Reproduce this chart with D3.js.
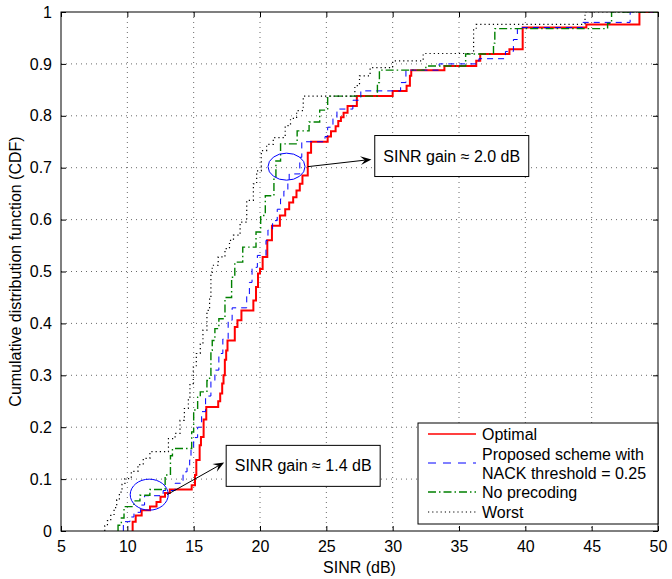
<!DOCTYPE html>
<html>
<head>
<meta charset="utf-8">
<script src="https://cdn.jsdelivr.net/npm/d3@7"></script>
<style>
  body { margin: 0; background: #fff; }
  svg text { font-family: "Liberation Sans", Arial, Helvetica, sans-serif; fill: #000; }
</style>
</head>
<body>
<script>
// step points [SINR (dB), CDF]
var optimal = [
  [10.40,0.018],[10.63,0.030],[11.08,0.040],[11.71,0.047],[12.2,0.056],[12.5,0.066],[12.84,0.073],
  [13.2,0.080],[14.85,0.088],[15.1,0.108],[15.2,0.137],[15.45,0.165],[15.55,0.181],[15.75,0.215],
  [15.95,0.239],[16.85,0.25],[17.0,0.265],[17.15,0.284],[17.25,0.30],[17.35,0.33],[17.45,0.348],
  [17.55,0.367],[18.1,0.393],[18.3,0.406],[18.6,0.425],[19.5,0.444],[19.7,0.47],[19.85,0.496],
  [20.0,0.505],[20.2,0.528],[20.55,0.56],[20.9,0.588],[21.5,0.608],[21.9,0.62],[22.2,0.633],
  [22.5,0.643],[22.75,0.656],[23.0,0.669],[23.2,0.685],[23.6,0.729],[23.85,0.75],[25.1,0.76],
  [25.35,0.77],[25.7,0.78],[25.9,0.79],[26.1,0.797],[26.3,0.806],[26.6,0.819],[27.3,0.838],
  [30.0,0.848],[31.05,0.858],[31.3,0.877],[31.4,0.888],[33.9,0.896],[36.3,0.906],[36.6,0.919],
  [38.8,0.928],[39.8,0.97],[44.6,0.976],[48.6,1.0]
];
var proposed = [
  [9.7,0.018],[10.2,0.027],[10.5,0.036],[11.0,0.05],[11.3,0.068],[12.7,0.078],[13.6,0.092],
  [14.2,0.114],[14.5,0.125],[14.7,0.137],[14.8,0.16],[15.0,0.18],[15.3,0.20],[15.6,0.23],
  [15.9,0.26],[16.3,0.29],[16.6,0.31],[16.9,0.342],[17.2,0.37],[17.6,0.406],[17.9,0.43],
  [19.0,0.454],[19.2,0.479],[19.4,0.508],[19.8,0.531],[20.45,0.56],[20.6,0.58],[20.95,0.598],
  [21.3,0.62],[21.55,0.64],[21.8,0.655],[22.1,0.672],[22.2,0.688],[23.0,0.72],[23.15,0.75],
  [24.9,0.76],[25.1,0.778],[25.5,0.795],[25.8,0.813],[27.0,0.83],[27.6,0.848],[30.6,0.864],
  [31.0,0.888],[33.5,0.90],[36.5,0.91],[38.5,0.924],[39.1,0.947],[39.4,0.97],[44.3,0.98],[47.9,1.0]
];
var noPrecoding = [
  [9.3,0.011],[9.55,0.025],[9.75,0.047],[10.5,0.058],[10.95,0.069],[11.7,0.08],[12.85,0.108],
  [13.25,0.145],[13.4,0.159],[14.85,0.191],[15.0,0.233],[15.3,0.258],[15.5,0.268],[16.0,0.29],
  [16.2,0.30],[16.3,0.348],[16.4,0.367],[16.6,0.39],[16.9,0.409],[17.36,0.45],[17.86,0.489],
  [18.1,0.518],[18.7,0.547],[19.7,0.576],[20.05,0.608],[20.4,0.646],[21.05,0.678],[21.2,0.713],
  [21.55,0.746],[22.8,0.771],[23.7,0.788],[24.5,0.811],[25.1,0.838],[28.85,0.864],[29.0,0.888],
  [32.5,0.896],[35.5,0.919],[37.6,0.94],[37.7,0.968],[46.2,0.978],[46.5,1.0]
];
var worst = [
  [8.3,0.01],[8.5,0.02],[8.75,0.03],[9.0,0.045],[9.2,0.06],[9.4,0.075],[9.6,0.09],[9.82,0.101],
  [10.3,0.115],[10.8,0.128],[11.2,0.14],[11.7,0.153],[13.1,0.178],[13.6,0.188],[13.97,0.213],
  [14.3,0.236],[14.6,0.258],[14.72,0.284],[14.97,0.316],[15.2,0.342],[15.5,0.36],[15.7,0.387],
  [16.0,0.425],[16.2,0.45],[16.3,0.496],[16.4,0.512],[16.85,0.528],[17.36,0.544],[17.7,0.56],
  [18.0,0.57],[18.5,0.595],[19.0,0.637],[19.5,0.669],[19.75,0.694],[20.1,0.733],[20.5,0.745],
  [21.0,0.758],[21.9,0.781],[22.3,0.795],[22.76,0.81],[23.26,0.838],[27.15,0.858],[27.5,0.877],
  [28.3,0.893],[30.0,0.906],[32.3,0.92],[36.1,0.967],[36.3,0.976],[44.5,1.0]
];

var seriesNames = ["Optimal", "Proposed scheme with\nNACK threshold = 0.25", "No precoding", "Worst"];
var xTicks = [5, 10, 15, 20, 25, 30, 35, 40, 45, 50];
var yTicks = [0, 0.1, 0.2, 0.3, 0.4, 0.5, 0.6, 0.7, 0.8, 0.9, 1];
var xLabel = "SINR (dB)";
var yLabel = "Cumulative distribution function (CDF)";
var gainLabels = ["SINR gain \u2248 1.4 dB", "SINR gain \u2248 2.0 dB"];

var W = 672, H = 579;
var margin = {top: 12, right: 14, bottom: 48, left: 61},
    width = W - margin.left - margin.right,
    height = H - margin.top - margin.bottom;

var styles = [
  {color: "#ff0000", width: 2, dash: null},
  {color: "#0000ff", width: 1, dash: "6,5"},
  {color: "#008000", width: 1.4, dash: "8,3,1.5,3"},
  {color: "#000000", width: 1.2, dash: "1.2,3"}
];

var x = d3.scaleLinear().domain([5, 50]).range([0, width]);
var y = d3.scaleLinear().domain([0, 1]).range([height, 0]);

var svg = d3.select("body").append("svg")
    .attr("width", W)
    .attr("height", H);
svg.append("rect").attr("width", W).attr("height", H).attr("fill", "#fff");

var g = svg.append("g")
    .attr("transform", "translate(" + margin.left + "," + margin.top + ")");

g.append("clipPath").attr("id", "clip")
  .append("rect").attr("width", width).attr("height", height);

// dotted grid
g.append("g").selectAll("line")
    .data(xTicks.slice(1, -1))
  .enter().append("line")
    .attr("x1", function(d) { return x(d); }).attr("x2", function(d) { return x(d); })
    .attr("y1", 0).attr("y2", height)
    .attr("stroke", "#444").attr("stroke-width", 0.8).attr("stroke-dasharray", "1,4");
g.append("g").selectAll("line")
    .data(yTicks.slice(1, -1))
  .enter().append("line")
    .attr("y1", function(d) { return y(d); }).attr("y2", function(d) { return y(d); })
    .attr("x1", 0).attr("x2", width)
    .attr("stroke", "#444").attr("stroke-width", 0.8).attr("stroke-dasharray", "1,4");

// axes with inward ticks
var xAxis = d3.axisBottom(x).tickValues(xTicks).tickSizeInner(-5).tickSizeOuter(0).tickPadding(10);
var yAxis = d3.axisLeft(y).tickValues(yTicks).tickSizeInner(-5).tickSizeOuter(0).tickPadding(9)
    .tickFormat(d3.format("~g"));
var xTop = d3.axisTop(x).tickValues(xTicks).tickSizeInner(-5).tickSizeOuter(0).tickFormat("");
var yRight = d3.axisRight(y).tickValues(yTicks).tickSizeInner(-5).tickSizeOuter(0).tickFormat("");

function styleAxis(sel) {
  sel.select(".domain").remove();
  sel.selectAll("line").attr("stroke", "#000");
  sel.selectAll("text").style("font-size", "16px").attr("fill", "#000");
}
g.append("g").attr("transform", "translate(0," + height + ")").call(xAxis).call(styleAxis);
g.append("g").call(yAxis).call(styleAxis);
g.append("g").call(xTop).call(styleAxis);
g.append("g").attr("transform", "translate(" + width + ",0)").call(yRight).call(styleAxis);

// curves
var line = d3.line()
    .x(function(d) { return x(d[0]); })
    .y(function(d) { return y(d[1]); })
    .curve(d3.curveStepAfter);

var allSeries = [optimal, proposed, noPrecoding, worst];
var curves = g.append("g").attr("clip-path", "url(#clip)");
allSeries.forEach(function(s, i) {
  var pts = [[s[0][0], 0]].concat(s).concat([[50, 1]]);
  curves.append("path")
      .datum(pts)
      .attr("d", line)
      .attr("fill", "none")
      .attr("stroke", styles[i].color)
      .attr("stroke-width", styles[i].width)
      .attr("stroke-dasharray", styles[i].dash);
});

// frame
g.append("rect")
    .attr("width", width).attr("height", height)
    .attr("fill", "none").attr("stroke", "#000").attr("stroke-width", 1);

// axis titles
svg.append("text")
    .attr("x", margin.left + width / 2).attr("y", 573)
    .attr("text-anchor", "middle")
    .style("font-size", "16px")
    .text(xLabel);
svg.append("text")
    .attr("transform", "translate(21," + (margin.top + height / 2) + ") rotate(-90)")
    .attr("text-anchor", "middle")
    .style("font-size", "16px")
    .text(yLabel);

// annotations: ellipses, arrows, boxes
var ann = [
  {cx: 11.65, cy: 0.07, rx: 19, ry: 15.5, from: [13.0, 0.07], to: [17.3, 0.132], box: [17.45, 0.165], label: gainLabels[0]},
  {cx: 22.0, cy: 0.702, rx: 18.5, ry: 13.5, from: [23.6, 0.702], to: [28.4, 0.716], box: [28.65, 0.762], label: gainLabels[1]}
];
ann.forEach(function(a) {
  g.append("ellipse")
      .attr("cx", x(a.cx)).attr("cy", y(a.cy))
      .attr("rx", a.rx).attr("ry", a.ry)
      .attr("fill", "none").attr("stroke", "#0000ff").attr("stroke-width", 1);

  var x1 = x(a.from[0]), y1 = y(a.from[1]), x2 = x(a.to[0]), y2 = y(a.to[1]);
  var ang = Math.atan2(y2 - y1, x2 - x1);
  var L = 11, Wh = 4.5;
  var bx = x2 - L * Math.cos(ang), by = y2 - L * Math.sin(ang);
  var nx = -Math.sin(ang), ny = Math.cos(ang);
  var mx = x2 - 0.6 * L * Math.cos(ang), my = y2 - 0.6 * L * Math.sin(ang);
  g.append("line")
      .attr("x1", x1).attr("y1", y1).attr("x2", mx).attr("y2", my)
      .attr("stroke", "#000").attr("stroke-width", 1);
  g.append("path")
      .attr("d", "M" + x2 + "," + y2 +
                 "L" + (bx + nx * Wh) + "," + (by + ny * Wh) +
                 "L" + mx + "," + my +
                 "L" + (bx - nx * Wh) + "," + (by - ny * Wh) + "Z")
      .attr("fill", "#000");

  var bxp = x(a.box[0]), byp = y(a.box[1]);
  g.append("rect")
      .attr("x", bxp).attr("y", byp)
      .attr("width", 154).attr("height", 41)
      .attr("fill", "#fff").attr("stroke", "#000").attr("stroke-width", 1);
  g.append("text")
      .attr("x", bxp + 77).attr("y", byp + 26)
      .attr("text-anchor", "middle")
      .style("font-size", "16px")
      .text(a.label);
});

// legend
var lx = 418 - margin.left, ly = 423 - margin.top;
var legend = g.append("g").attr("transform", "translate(" + lx + "," + ly + ")");
legend.append("rect")
    .attr("width", width - lx).attr("height", 101)
    .attr("fill", "#fff").attr("stroke", "#000").attr("stroke-width", 1);
var rowY = [11, 40, 69, 89];
seriesNames.forEach(function(name, i) {
  legend.append("line")
      .attr("x1", 10).attr("x2", 58)
      .attr("y1", rowY[i]).attr("y2", rowY[i])
      .attr("stroke", styles[i].color)
      .attr("stroke-width", i === 0 ? 1.5 : styles[i].width)
      .attr("stroke-dasharray", i === 1 ? "8,7" : styles[i].dash);
  var lines = name.split("\n");
  var t = legend.append("text")
      .attr("x", 64)
      .style("font-size", "16px");
  lines.forEach(function(s, k) {
    t.append("tspan")
        .attr("x", 64)
        .attr("y", rowY[i] + 6 + (k - (lines.length - 1) / 2) * 19)
        .text(s);
  });
});
</script>
</body>
</html>
